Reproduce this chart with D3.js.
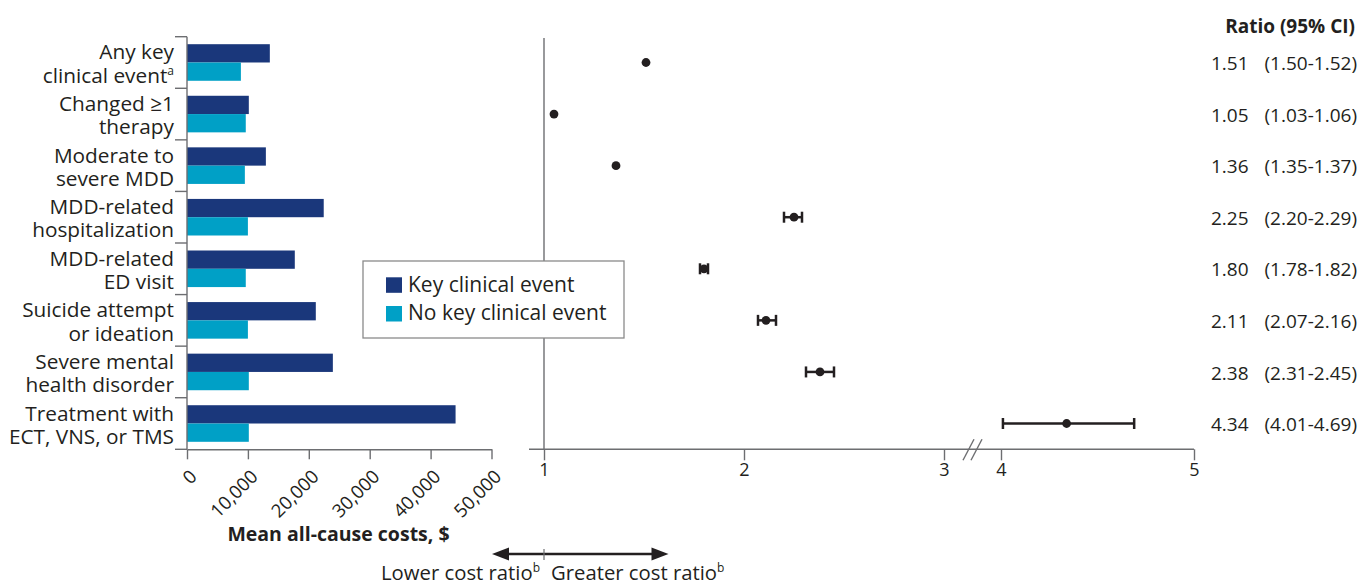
<!DOCTYPE html>
<html>
<head>
<meta charset="utf-8">
<script src="https://cdn.jsdelivr.net/npm/d3@7"></script>
<style>
  html, body { margin: 0; padding: 0; background: #fff; }
  svg { display: block; font-family: "Open Sans", "Noto Sans", sans-serif; }
</style>
</head>
<body>
<svg id="chart" width="1361" height="585"></svg>
<script>
// ---------- data ----------
const categories = [
  "Any key clinical event",
  "Changed ≥1 therapy",
  "Moderate to severe MDD",
  "MDD-related hospitalization",
  "MDD-related ED visit",
  "Suicide attempt or ideation",
  "Severe mental health disorder",
  "Treatment with ECT, VNS, or TMS"
];
const labelLine1 = ["Any key", "Changed ≥1", "Moderate to", "MDD-related", "MDD-related", "Suicide attempt", "Severe mental", "Treatment with"];
const labelLine2 = ["clinical event", "therapy", "severe MDD", "hospitalization", "ED visit", "or ideation", "health disorder", "ECT, VNS, or TMS"];
const labelSup = ["a", "", "", "", "", "", "", ""];

const keyEventCosts = [13600, 10150, 12950, 22450, 17700, 21150, 23950, 44100];
const noKeyEventCosts = [8850, 9650, 9500, 10000, 9650, 10000, 10150, 10150];

const ratioValues = [1.51, 1.05, 1.36, 2.25, 1.80, 2.11, 2.38, 4.34];
const ciLower = [1.50, 1.03, 1.35, 2.20, 1.78, 2.07, 2.31, 4.01];
const ciUpper = [1.52, 1.06, 1.37, 2.29, 1.82, 2.16, 2.45, 4.69];

const costTicks = [0, 10000, 20000, 30000, 40000, 50000];
const ratioTicks = [1, 2, 3, 4, 5];

const seriesNames = ["Key clinical event", "No key clinical event"];
const seriesColors = ["#1a377b", "#00a0c6"];

// ---------- setup ----------
const svg = d3.select("#chart");
const textColor = "#231f20";
const axisColor = "#6d6e71";
const fontLabel = 20.8;

const y = d3.scaleBand().domain(categories).range([36.7, 449.3]).paddingInner(0).paddingOuter(0);
const ySub = d3.scaleBand().domain(seriesNames).range([0, y.bandwidth()]).paddingInner(0).paddingOuter(0.41);
const x = d3.scaleLinear().domain([0, 50000]).range([187, 491.5]);
const xr = d3.scaleLinear().domain([1, 3, 4, 5]).range([544, 944, 1001, 1194]);

const rows = categories.map((c, i) => ({
  c, i,
  key: keyEventCosts[i], nokey: noKeyEventCosts[i],
  r: ratioValues[i], lo: ciLower[i], hi: ciUpper[i]
}));

// ---------- left bar chart ----------
const bars = svg.append("g");
rows.forEach(d => {
  bars.append("rect")
    .attr("x", x(0)).attr("y", y(d.c) + ySub(seriesNames[0]))
    .attr("width", x(d.key) - x(0)).attr("height", ySub.bandwidth())
    .attr("fill", seriesColors[0]);
  bars.append("rect")
    .attr("x", x(0)).attr("y", y(d.c) + ySub(seriesNames[1]))
    .attr("width", x(d.nokey) - x(0)).attr("height", ySub.bandwidth())
    .attr("fill", seriesColors[1]);
});

// y axis (category boundaries)
const yAxisG = svg.append("g").attr("stroke", axisColor).attr("stroke-width", 1.4);
yAxisG.append("line").attr("x1", x(0)).attr("x2", x(0)).attr("y1", y.range()[0]).attr("y2", y.range()[1]);
const boundaries = categories.map(c => y(c)).concat([y.range()[1]]);
boundaries.forEach(b => {
  yAxisG.append("line").attr("x1", x(0) - 12).attr("x2", x(0)).attr("y1", b).attr("y2", b);
});

// category labels
const labG = svg.append("g").attr("fill", textColor).attr("font-size", fontLabel).attr("text-anchor", "end");
rows.forEach(d => {
  const cy = y(d.c) + y.bandwidth() / 2;
  labG.append("text").attr("x", 174).attr("y", cy - 3).text(labelLine1[d.i]);
  const t2 = labG.append("text").attr("x", 174).attr("y", cy + 20.2);
  t2.append("tspan").text(labelLine2[d.i]);
  if (labelSup[d.i]) {
    t2.append("tspan").attr("font-size", 12).attr("dy", -8).text(labelSup[d.i]);
  }
});

// x axis (costs)
const xAxis = d3.axisBottom(x).tickValues(costTicks).tickSize(10).tickSizeOuter(0).tickFormat(d3.format(","));
const xAxisG = svg.append("g").attr("transform", `translate(0,${y.range()[1]})`).call(xAxis);
xAxisG.select(".domain").attr("stroke", axisColor).attr("stroke-width", 1.4);
xAxisG.selectAll(".tick line").attr("stroke", axisColor).attr("stroke-width", 1.4);
xAxisG.selectAll(".tick text")
  .attr("fill", textColor).attr("font-size", 18.5).attr("font-family", "Open Sans, sans-serif")
  .attr("text-anchor", "end")
  .attr("x", 0).attr("y", 0).attr("dy", "0.35em")
  .attr("transform", "translate(6,24) rotate(-45)");

svg.append("text").attr("x", 338.5).attr("y", 541).attr("text-anchor", "middle")
  .attr("font-size", 19.5).attr("font-weight", "bold").attr("fill", textColor)
  .text("Mean all-cause costs, $");

// ---------- forest plot ----------
const baseY = y.range()[1];
svg.append("line").attr("x1", xr(1)).attr("x2", xr(1)).attr("y1", 38).attr("y2", baseY)
  .attr("stroke", axisColor).attr("stroke-width", 1.4);

const rAxis = d3.axisBottom(xr).tickValues(ratioTicks).tickSize(11).tickSizeOuter(0).tickFormat(d3.format("d"));
const rAxisG = svg.append("g").attr("transform", `translate(0,${baseY})`).call(rAxis);
rAxisG.select(".domain").remove();
rAxisG.append("line").attr("x1", 529).attr("x2", xr(5)).attr("y1", 0).attr("y2", 0)
  .attr("stroke", axisColor).attr("stroke-width", 1.4);
rAxisG.selectAll(".tick line").attr("stroke", axisColor).attr("stroke-width", 1.4);
rAxisG.selectAll(".tick text").attr("fill", textColor).attr("font-size", 18)
  .attr("font-family", "Open Sans, sans-serif").attr("y", 14);

// axis break marks
const brk = (xr(3) + xr(4)) / 2;
[-4, 4].forEach(off => {
  svg.append("line")
    .attr("x1", brk + off - 5.5).attr("y1", baseY + 11)
    .attr("x2", brk + off + 5.5).attr("y2", baseY - 10)
    .attr("stroke", axisColor).attr("stroke-width", 1.4);
});

// CI and points
const fg = svg.append("g").attr("stroke", "#231f20").attr("fill", "#231f20");
rows.forEach(d => {
  const cy = y(d.c) + y.bandwidth() / 2;
  if (xr(d.hi) - xr(d.lo) >= 7) {
    fg.append("line").attr("x1", xr(d.lo)).attr("x2", xr(d.hi)).attr("y1", cy).attr("y2", cy).attr("stroke-width", 2.5);
    [d.lo, d.hi].forEach(v => {
      fg.append("line").attr("x1", xr(v)).attr("x2", xr(v)).attr("y1", cy - 5.5).attr("y2", cy + 5.5).attr("stroke-width", 2.5);
    });
  }
  fg.append("circle").attr("cx", xr(d.r)).attr("cy", cy).attr("r", 4.4).attr("stroke", "none");
});

// ratio column
const fmt = d3.format(".2f");
svg.append("text").attr("x", 1355).attr("y", 33).attr("text-anchor", "end")
  .attr("font-size", 19).attr("font-weight", "bold").attr("fill", textColor).text("Ratio (95% CI)");
rows.forEach(d => {
  const cy = y(d.c) + y.bandwidth() / 2 + 1;
  svg.append("text").attr("x", 1211).attr("y", cy).attr("dy", "0.35em")
    .attr("font-size", 19).attr("fill", textColor).text(fmt(d.r));
  svg.append("text").attr("x", 1357).attr("y", cy).attr("dy", "0.35em").attr("text-anchor", "end")
    .attr("font-size", 19).attr("fill", textColor).text(`(${fmt(d.lo)}-${fmt(d.hi)})`);
});

// ---------- legend ----------
const lg = svg.append("g");
lg.append("rect").attr("x", 363).attr("y", 261).attr("width", 261).attr("height", 77)
  .attr("fill", "#fff").attr("stroke", "#8a8a8a").attr("stroke-width", 1.3);
seriesNames.forEach((s, i) => {
  lg.append("rect").attr("x", 386).attr("y", 277.3 + i * 28.7).attr("width", 16).attr("height", 15.5).attr("fill", seriesColors[i]);
  lg.append("text").attr("x", 408).attr("y", 292 + i * 28.3).attr("font-size", 21).attr("fill", textColor).text(s);
});

// ---------- direction arrows ----------
const ay = 554;
const ag = svg.append("g");
ag.append("line").attr("x1", 505).attr("x2", 656).attr("y1", ay).attr("y2", ay).attr("stroke", "#231f20").attr("stroke-width", 2.5);
ag.append("path").attr("d", `M492,${ay} L509,${ay - 6.5} L509,${ay + 6.5} Z`).attr("fill", "#231f20");
ag.append("path").attr("d", `M668.5,${ay} L651.5,${ay - 6.5} L651.5,${ay + 6.5} Z`).attr("fill", "#231f20");
ag.append("line").attr("x1", xr(1)).attr("x2", xr(1)).attr("y1", ay - 5).attr("y2", ay + 6).attr("stroke", axisColor).attr("stroke-width", 1.2);

const lt = svg.append("text").attr("x", 540).attr("y", 580).attr("text-anchor", "end").attr("font-size", 20.3).attr("fill", textColor);
lt.append("tspan").text("Lower cost ratio");
lt.append("tspan").attr("font-size", 12).attr("dy", -8).text("b");
const gt = svg.append("text").attr("x", 551).attr("y", 580).attr("font-size", 20.3).attr("fill", textColor);
gt.append("tspan").text("Greater cost ratio");
gt.append("tspan").attr("font-size", 12).attr("dy", -8).text("b");
</script>
</body>
</html>
